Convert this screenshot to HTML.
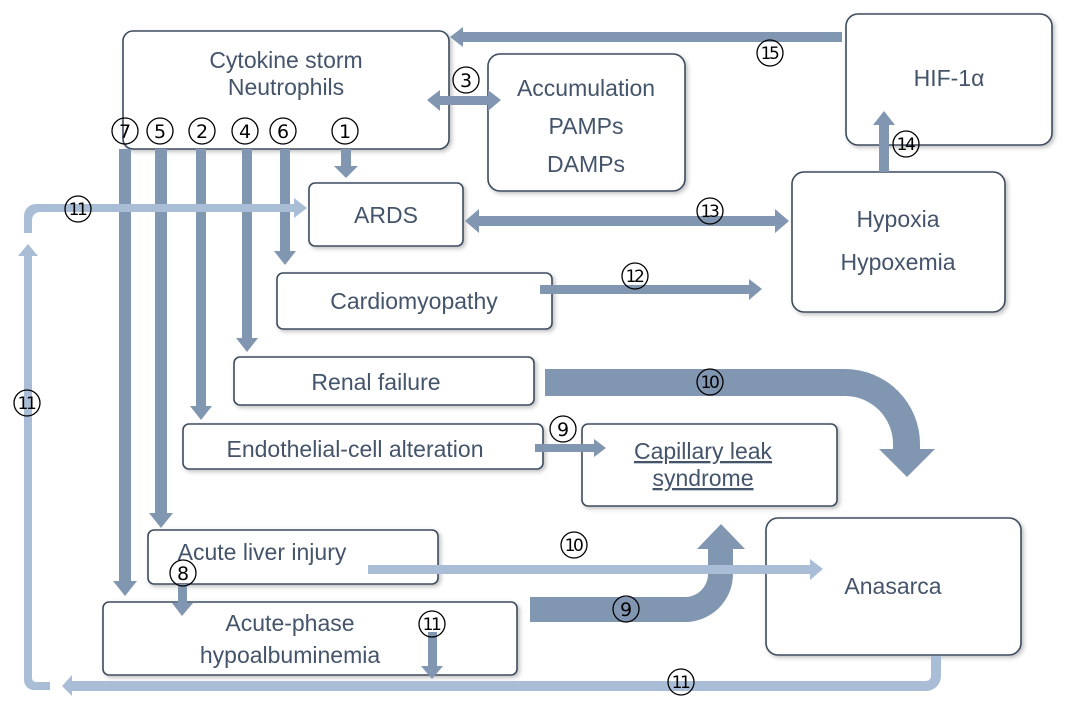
<!DOCTYPE html>
<html><head><meta charset="utf-8"><style>
html,body{margin:0;padding:0;background:#fff;}
svg{display:block;}
text{font-family:"Liberation Sans","DejaVu Sans",sans-serif;fill:#44546a;}
.n{font-family:"DejaVu Sans",sans-serif;fill:#000;font-size:19px;}
.n2{font-family:"DejaVu Sans",sans-serif;fill:#000;font-size:17px;letter-spacing:-2.5px;}
</style></head><body>
<svg width="1074" height="709" viewBox="0 0 1074 709" xmlns="http://www.w3.org/2000/svg">
<defs>
<filter id="sh" x="-10%" y="-10%" width="120%" height="130%"><feDropShadow dx="2" dy="2" stdDeviation="2" flood-color="#000" flood-opacity="0.25"/></filter>
</defs>
<g fill="#fff" stroke="#3e4c5e" stroke-width="1.6" filter="url(#sh)">
<rect x="123" y="31" width="326" height="118" rx="10"/>
<rect x="488" y="54" width="197" height="137" rx="12"/>
<rect x="846" y="14" width="206" height="131" rx="12"/>
<rect x="309" y="183" width="154" height="63" rx="6"/>
<rect x="792" y="172" width="213" height="140" rx="12"/>
<rect x="277" y="273" width="275" height="56" rx="6"/>
<rect x="234" y="357" width="300" height="48" rx="6"/>
<rect x="183" y="424" width="360" height="45" rx="6"/>
<rect x="582" y="424" width="255" height="82" rx="6"/>
<rect x="148" y="530" width="290" height="54" rx="6"/>
<rect x="103" y="602" width="414" height="73" rx="6"/>
<rect x="766" y="518" width="255" height="137" rx="12"/>
</g>
<g font-size="23" text-anchor="middle">
<text x="286" y="68">Cytokine storm</text>
<text x="286" y="95">Neutrophils</text>
<text x="586" y="96">Accumulation</text>
<text x="586" y="134">PAMPs</text>
<text x="586" y="172">DAMPs</text>
<text x="949" y="86">HIF-1α</text>
<text x="386" y="223">ARDS</text>
<text x="898" y="227">Hypoxia</text>
<text x="898" y="270">Hypoxemia</text>
<text x="414" y="309">Cardiomyopathy</text>
<text x="376" y="390">Renal failure</text>
<text x="355" y="457">Endothelial-cell alteration</text>
<text x="703" y="459" text-decoration="underline">Capillary leak</text>
<text x="703" y="486" text-decoration="underline">syndrome</text>
<text x="262" y="560">Acute liver injury</text>
<text x="290" y="631">Acute-phase</text>
<text x="290" y="663">hypoalbuminemia</text>
<text x="893" y="594">Anasarca</text>
</g>
<g fill="#8196b0">
<rect x="119" y="149" width="12" height="432"/><polygon points="113,581 137,581 125,596"/>
<rect x="155" y="149" width="12" height="364"/><polygon points="149,513 173,513 161,528"/>
<rect x="196" y="149" width="10" height="258"/><polygon points="190,406 212,406 201,420"/>
<rect x="242" y="149" width="10" height="190"/><polygon points="236,338 258,338 247,352"/>
<rect x="280" y="149" width="10" height="102"/><polygon points="274,251 296,251 285,265"/>
<rect x="341" y="149" width="10" height="17"/><polygon points="334,166 358,166 346,178"/>
<rect x="462" y="32" width="380" height="10"/><polygon points="463,27 463,47 450,37"/>
<rect x="438" y="96" width="52" height="9"/><polygon points="440,90 440,111 427,100"/><polygon points="488,90 488,111 501,100"/>
<rect x="478" y="216" width="298" height="10"/><polygon points="479,209 479,233 465,221"/><polygon points="775,209 775,233 789,221"/>
<rect x="540" y="285" width="210" height="9"/><polygon points="749,279 749,300 762,289"/>
<rect x="879" y="124" width="10" height="48"/><polygon points="873,125 895,125 884,111"/>
<rect x="535" y="444" width="60" height="8"/><polygon points="594,439 594,457 606,448"/>
<rect x="178" y="584" width="9" height="20"/><polygon points="172,603 193,603 182,616"/>
<rect x="428" y="632" width="9" height="36"/><polygon points="421,666 443,666 432,679"/>
<path d="M545 369 H845 A75 75 0 0 1 920 444 V450 H893 V444 A48 48 0 0 0 845 396 H545 Z"/>
<polygon points="879,449 935,449 907,477"/>
<path d="M530 597 H685 A23 23 0 0 0 708 574 V548 H733 V574 A48 48 0 0 1 685 622 H530 Z"/>
<polygon points="697,549 745,549 721,524"/>
</g>
<g fill="#a9bdd6">
<rect x="368" y="565" width="444" height="9"/><polygon points="810,559 810,580 823,569"/>
<path d="M70 681 H926 A5 5 0 0 0 931 676 V656 H941 V676 A15 15 0 0 1 926 691 H70 Z"/>
<polygon points="72,675 72,696 62,686"/>
<path d="M50 682 H36 A4 4 0 0 1 32 678 V255 H24 V680 A10 10 0 0 0 34 690 H50 Z"/>
<polygon points="18,256 38,256 28,244"/>
<path d="M24 233 V216 A12 12 0 0 1 36 204 H295 V212 H40 A8 8 0 0 0 32 220 V233 Z"/>
<polygon points="294,198 294,218 307,208"/>
</g>
<g fill="none" stroke="#000" stroke-width="1.3">
<circle cx="125" cy="131" r="13"/><circle cx="160" cy="131" r="13"/><circle cx="202" cy="131" r="13"/>
<circle cx="245" cy="131" r="13"/><circle cx="283" cy="131" r="13"/><circle cx="345" cy="131" r="13"/>
<circle cx="466" cy="80" r="13"/><circle cx="770" cy="53" r="13"/><circle cx="906" cy="144" r="13"/>
<circle cx="78" cy="209" r="13"/><circle cx="710" cy="211" r="13"/><circle cx="635" cy="276" r="13"/>
<circle cx="710" cy="382" r="13"/><circle cx="563" cy="429" r="13"/><circle cx="27" cy="403" r="13"/>
<circle cx="574" cy="545" r="13"/><circle cx="183" cy="573" r="13"/><circle cx="626" cy="609" r="13"/>
<circle cx="432" cy="624" r="13"/><circle cx="681" cy="682" r="13"/>
</g>
<g text-anchor="middle">
<text class="n" x="125" y="138">7</text><text class="n" x="160" y="138">5</text><text class="n" x="202" y="138">2</text>
<text class="n" x="245" y="138">4</text><text class="n" x="283" y="138">6</text><text class="n" x="345" y="138">1</text>
<text class="n" x="466" y="87">3</text><text class="n2" x="769" y="59">15</text><text class="n2" x="905" y="150">14</text>
<text class="n2" x="77" y="215">11</text><text class="n2" x="709" y="217">13</text><text class="n2" x="634" y="282">12</text>
<text class="n2" x="709" y="388">10</text><text class="n" x="563" y="436">9</text><text class="n2" x="26" y="409">11</text>
<text class="n2" x="573" y="551">10</text><text class="n" x="183" y="580">8</text><text class="n" x="626" y="616">9</text>
<text class="n2" x="431" y="630">11</text><text class="n2" x="680" y="688">11</text>
</g>
</svg>
</body></html>
